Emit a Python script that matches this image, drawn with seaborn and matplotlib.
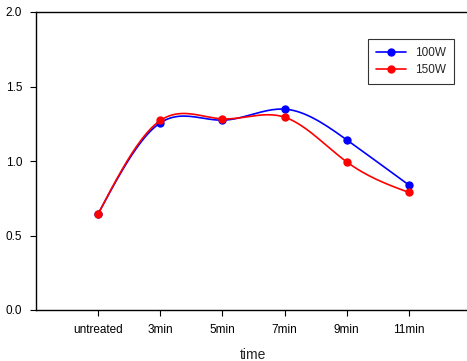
import numpy as np
import pandas as pd
import matplotlib
matplotlib.use("Agg")
import matplotlib.pyplot as plt
import seaborn as sns

# Data
times = ["untreated", "3min", "5min", "7min", "9min", "11min"]
w100 = [0.645, 1.256, 1.274, 1.348, 1.142, 0.839]
w150 = [0.645, 1.272, 1.283, 1.294, 0.994, 0.789]

sns.set_style("ticks")
plt.rcParams["font.family"] = ["Liberation Sans", "DejaVu Sans"]

df = pd.DataFrame({"time": times * 2,
                   "value": w100 + w150,
                   "series": ["100W"] * 6 + ["150W"] * 6})
df["x"] = df.groupby("series").cumcount()


def natural_spline(y, n=40):
    # natural cubic spline through equally spaced points (smooth line like the original)
    y = np.asarray(y, float)
    k = len(y)
    A = np.zeros((k, k))
    b = np.zeros(k)
    A[0, 0] = A[-1, -1] = 1
    for i in range(1, k - 1):
        A[i, i - 1], A[i, i], A[i, i + 1] = 1, 4, 1
        b[i] = 6 * (y[i + 1] - 2 * y[i] + y[i - 1])
    M = np.linalg.solve(A, b)
    xs, ys = [], []
    for i in range(k - 1):
        t = np.linspace(0, 1, n, endpoint=(i == k - 2))
        seg = ((1 - t) * y[i] + t * y[i + 1]
               + ((1 - t) ** 3 - (1 - t)) * M[i] / 6
               + (t ** 3 - t) * M[i + 1] / 6)
        xs.append(i + t)
        ys.append(seg)
    return np.concatenate(xs), np.concatenate(ys)


fig = plt.figure(figsize=(4.67, 3.61), dpi=100)
ax = fig.add_axes([36 / 467, 51 / 361, 435 / 467, 298 / 361])

colors = {"100W": "#0000ff", "150W": "#ff0000"}
for name, vals in [("100W", w100), ("150W", w150)]:
    sx, sy = natural_spline(vals)
    sns.lineplot(x=sx, y=sy, ax=ax, color=colors[name], lw=1.2, sort=False)
    sub = df[df["series"] == name]
    ax.plot(sub["x"], sub["value"], "o", color=colors[name], ms=5)
    ax.plot([], [], "-o", color=colors[name], lw=1.2, ms=5, label=name)

ax.set_xlim(-1, 6)
ax.set_ylim(0, 2.0)
ax.set_xticks(range(len(times)))
ax.set_xticklabels(times)
ax.set_yticks(np.arange(0, 2.01, 0.5))
ax.set_yticklabels([f"{v:.1f}" for v in np.arange(0, 2.01, 0.5)])
ax.tick_params(labelsize=8.5, length=4, width=0.8, colors="black", pad=6)
ax.set_xlabel("time", fontsize=10, labelpad=9)
ax.set_ylabel("")
for s in ax.spines.values():
    s.set_linewidth(1.0)
    s.set_color("black")

leg = ax.legend(loc="upper left", bbox_to_anchor=(326 / 435, 1 - 21 / 298),
                fontsize=8.5, frameon=True, fancybox=False, edgecolor="black",
                handlelength=2.5, borderpad=0.7, labelspacing=0.4)
leg.get_frame().set_linewidth(0.8)

fig.savefig("out.png", dpi=100)
